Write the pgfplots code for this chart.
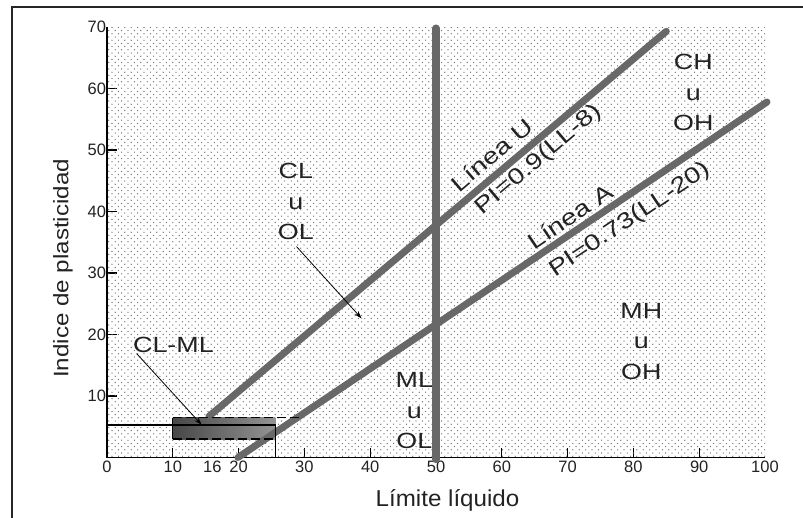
\documentclass[border=0pt]{standalone}
\usepackage{fontspec}
\setmainfont{Liberation Sans}
\newfontfamily\regf{Liberation Sans}[FakeStretch=1.22]
\newfontfamily\linf{Liberation Sans}[FakeStretch=1.25]
\newfontfamily\ylf{Liberation Sans}[FakeStretch=1.15]
\newfontfamily\xlf{Liberation Sans}[FakeStretch=1.05]
\newfontfamily\tickf{Liberation Sans}
\usepackage{pgfplots}
\pgfplotsset{compat=1.18}
\usetikzlibrary{patterns,arrows.meta}
\definecolor{lg}{HTML}{686868}
\definecolor{txt}{HTML}{222222}
\pgfdeclarepatternformonly{mydots}{\pgfqpoint{-1pt}{-1pt}}{\pgfqpoint{5.4pt}{5.4pt}}{\pgfqpoint{6.4pt}{6.4pt}}{%
  \pgfpathcircle{\pgfqpoint{0pt}{0pt}}{0.65pt}%
  \pgfpathcircle{\pgfqpoint{3.2pt}{3.2pt}}{0.65pt}%
  \pgfusepath{fill}}
\newcommand\regionfont{\regf\fontsize{22}{30.5}\selectfont}
\newcommand\linefont{\linf\fontsize{22.5}{26}\selectfont}
\begin{document}
\begin{tikzpicture}
\useasboundingbox (0,0) rectangle (803pt,517pt);
\draw[line width=1.8pt, black!85] (12.3pt,509.7pt) rectangle (815pt,-10pt);
\begin{axis}[
  at={(107pt,59.5pt)}, anchor=south west,
  scale only axis, width=658pt, height=430.5pt,
  xmin=0, xmax=100, ymin=0, ymax=70,
  axis lines*=left,
  axis line style={-, line width=1.4pt, black},
  tick align=inside,
  major tick length=10pt,
  tick style={line width=1.3pt, black},
  xtick={10,20,...,90}, extra x ticks={0,16,100},
  ytick={10,20,...,60}, extra y ticks={70},
  extra tick style={major tick length=0pt},
  ticklabel style={font=\tickf\fontsize{16.5}{18}\selectfont, text=txt},
  yticklabel style={xshift=2.5pt},
  /pgf/number format/assume math mode=true,
  xlabel={Límite líquido}, ylabel={Indice de plasticidad},
  xlabel style={font=\xlf\fontsize{23}{26}\selectfont, text=txt, at={(axis description cs:0.5175,-0.114)}, anchor=base},
  ylabel style={font=\ylf\fontsize{21}{24}\selectfont, text=txt, at={(axis description cs:-0.0588,0.4395)}, anchor=base},
  clip=false,
]
% dotted background
\addplot[draw=none, pattern=mydots, pattern color=black!62] coordinates {(0,70) (100,70)} \closedcycle;
% CL-ML shaded box
\addplot[draw=none, left color=black!72, right color=black!42] coordinates {(10,3.0) (25.6,3.0) (25.6,6.5) (10,6.5)} -- cycle;
% main lines
\addplot[lg, line width=7pt, line cap=round] coordinates {(15.5,6.7) (85,69.3)};
\addplot[lg, line width=7pt, line cap=round] coordinates {(19.9,0) (100.3,57.8)};
\addplot[lg, line width=7.5pt, line cap=round] coordinates {(50,-0.3) (50,69.8)};
% box edges
\addplot[black, line width=1.5pt, dash pattern=on 9pt off 4pt] coordinates {(10,6.5) (29.3,6.5)};
\addplot[black, line width=1.5pt, dash pattern=on 9pt off 4pt] coordinates {(10,3.0) (25.6,3.0)};
\addplot[black, line width=1.3pt] coordinates {(10,3.0) (10,6.5)};
\addplot[black, line width=1.2pt] coordinates {(0,5.3) (25.6,5.3) (25.6,0)};
% arrows
\addplot[black, line width=0.8pt, -{Stealth[length=8pt, width=5pt]}] coordinates {(4.5,16.9) (14.4,5.3)};
\addplot[black, line width=0.8pt, -{Stealth[length=8pt, width=5pt]}] coordinates {(28.8,34.3) (38.7,22.6)};
% region labels
\node[align=center, font=\regionfont, text=txt] at (axis cs:28.7,41.6) {CL\\u\\OL};
\node[align=center, font=\regionfont, text=txt] at (axis cs:46.7,7.6) {ML\\u\\OL};
\node[align=center, font=\regionfont, text=txt] at (axis cs:81.2,18.9) {MH\\u\\OH};
\node[align=center, font=\regionfont, text=txt] at (axis cs:89.1,59.35) {CH\\u\\OH};
\node[font=\regionfont, text=txt] at (axis cs:10.1,18.3) {CL-ML};
% line labels
\node[font=\linefont, text=txt, rotate=40.4] at (axis cs:58.5,49.2) {Línea U};
\node[font=\linefont, text=txt, rotate=40.4] at (axis cs:65.6,48.4) {PI=0.9(LL-8)};
\node[font=\linefont, text=txt, rotate=33.8] at (axis cs:70.4,39.2) {Línea A};
\node[font=\linefont, text=txt, rotate=33.8] at (axis cs:79.5,38.6) {PI=0.73(LL-20)};
\end{axis}
\end{tikzpicture}
\end{document}
